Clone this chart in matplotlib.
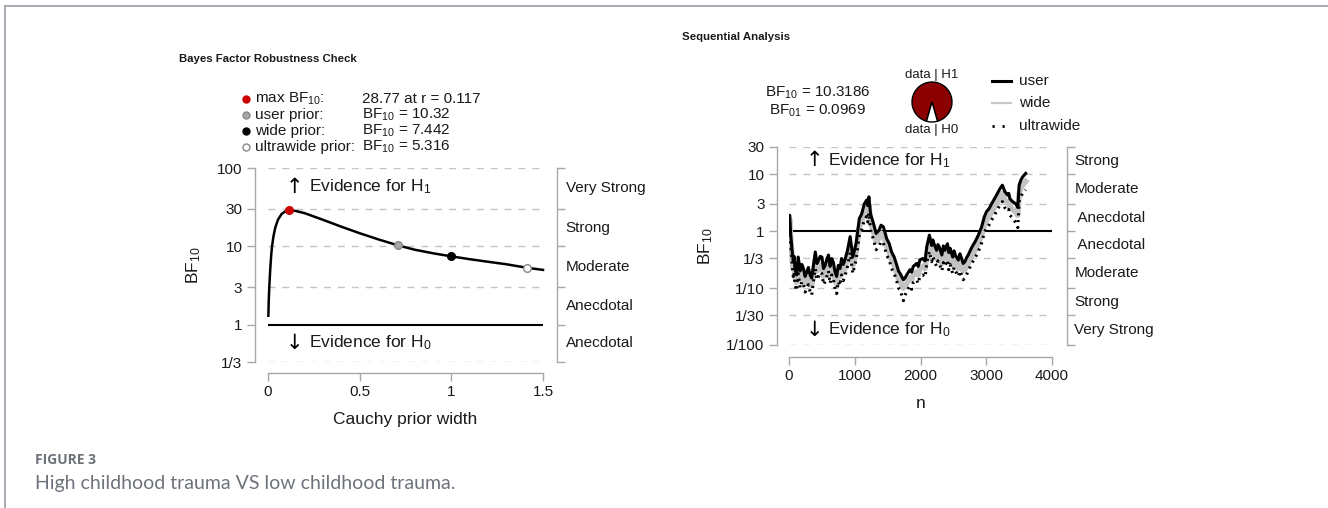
import numpy as np
import matplotlib
matplotlib.use("Agg")
import matplotlib.pyplot as plt
from matplotlib.ticker import NullLocator, FixedLocator
from matplotlib.transforms import blended_transform_factory
from matplotlib.lines import Line2D

plt.rcParams['font.family'] = ['Liberation Sans', 'DejaVu Sans']
plt.rcParams['mathtext.fontset'] = 'custom'
plt.rcParams['mathtext.rm'] = 'Liberation Sans'
plt.rcParams['mathtext.default'] = 'regular'

# ---- robustness check data
r_width = [0.002, 0.004, 0.007, 0.012, 0.018, 0.022, 0.03, 0.04, 0.055, 0.075, 0.095,
           0.117, 0.15, 0.2, 0.3, 0.4, 0.5, 0.6, 0.707, 0.8, 0.9, 1.0, 1.1, 1.2, 1.3, 1.414, 1.5]
bf_robust = [1.3, 2.0, 3.0, 5.0, 8.0, 10.0, 13.5, 17.5, 22.0, 26.0, 28.0,
             28.77, 28.3, 26.5, 21.8, 17.8, 14.7, 12.3, 10.32, 9.05, 8.15, 7.442, 6.85, 6.35, 5.9, 5.316, 5.0]
prior_r = [0.117, 0.707, 1.0, 1.414]
prior_bf = [28.77, 10.32, 7.442, 5.316]
prior_names = ["max BF$_{10}$:", "user prior:", "wide prior:", "ultrawide prior:"]
prior_vals = ["28.77 at r = 0.117", "BF$_{10}$ = 10.32", "BF$_{10}$ = 7.442", "BF$_{10}$ = 5.316"]
prior_face = ["#cc0000", "#a8a8a8", "black", "white"]
prior_edge = ["#cc0000", "#888888", "black", "#888888"]

# ---- sequential analysis data
n_obs = [0, 10, 25, 50, 65, 78, 90, 115, 140, 170, 195, 220, 245, 270, 295, 320, 345, 370,
         400, 425, 450, 475, 500, 525, 550, 575, 600, 625, 650, 675, 700, 725, 750, 775, 800,
         825, 850, 890, 930, 970, 1020, 1070, 1105, 1145, 1180, 1198, 1215, 1240, 1285, 1325,
         1370, 1400, 1435, 1460, 1485, 1525, 1560, 1600, 1640, 1665, 1690, 1740, 1765, 1790,
         1840, 1865, 1890, 1940, 1965, 1990, 2035, 2070, 2095, 2135, 2170, 2188, 2205, 2245,
         2265, 2285, 2325, 2348, 2370, 2410, 2430, 2450, 2490, 2510, 2530, 2575, 2600, 2625,
         2650, 2675, 2700, 2725, 2780, 2830, 2880, 2930, 2970, 3005, 3045, 3080, 3125, 3170,
         3210, 3245, 3285, 3325, 3342, 3360, 3400, 3450, 3480, 3500, 3525, 3555, 3600]
bf_user = [1.0, 1.9, 0.9, 0.42, 0.3, 0.36, 0.22, 0.17, 0.35, 0.2, 0.26, 0.22, 0.16, 0.19,
           0.23, 0.17, 0.15, 0.24, 0.43, 0.27, 0.31, 0.36, 0.35, 0.22, 0.25, 0.32, 0.38, 0.24,
           0.33, 0.28, 0.19, 0.16, 0.25, 0.22, 0.33, 0.26, 0.31, 0.46, 0.8, 0.35, 0.6, 1.67,
           2.0, 3.0, 3.5, 2.8, 4.0, 2.0, 1.36, 0.91, 1.04, 1.27, 1.19, 0.95, 0.74, 0.6, 0.43,
           0.35, 0.25, 0.2, 0.18, 0.14, 0.15, 0.17, 0.21, 0.19, 0.24, 0.27, 0.24, 0.31, 0.33,
           0.3, 0.53, 0.85, 0.56, 0.7, 0.6, 0.46, 0.58, 0.53, 0.38, 0.55, 0.46, 0.6, 0.42,
           0.5, 0.35, 0.45, 0.38, 0.31, 0.4, 0.33, 0.27, 0.29, 0.34, 0.38, 0.52, 0.65, 0.85,
           1.19, 1.78, 2.2, 2.5, 3.0, 3.7, 4.6, 5.6, 6.4, 4.9, 4.3, 4.6, 3.7, 3.3, 3.0, 2.6,
           6.4, 7.8, 9.0, 10.3186]
bf_wide = [1.0, 1.6, 0.75, 0.32, 0.22, 0.27, 0.16, 0.125, 0.26, 0.145, 0.19, 0.16, 0.12,
           0.14, 0.16, 0.12, 0.11, 0.17, 0.31, 0.2, 0.22, 0.26, 0.25, 0.16, 0.18, 0.23, 0.27,
           0.17, 0.24, 0.2, 0.14, 0.12, 0.18, 0.16, 0.24, 0.19, 0.22, 0.33, 0.57, 0.25, 0.43,
           1.2, 1.45, 2.15, 2.5, 2.0, 2.9, 1.45, 0.98, 0.66, 0.75, 0.92, 0.86, 0.68, 0.53,
           0.43, 0.31, 0.25, 0.18, 0.145, 0.13, 0.1, 0.11, 0.12, 0.15, 0.14, 0.17, 0.19, 0.17,
           0.22, 0.24, 0.22, 0.38, 0.61, 0.4, 0.5, 0.43, 0.33, 0.42, 0.38, 0.27, 0.4, 0.33,
           0.43, 0.3, 0.36, 0.25, 0.33, 0.27, 0.22, 0.29, 0.24, 0.2, 0.21, 0.24, 0.27, 0.37,
           0.47, 0.61, 0.86, 1.28, 1.6, 1.8, 2.15, 2.65, 3.3, 4.0, 4.6, 3.5, 3.1, 3.3, 2.65,
           2.4, 2.15, 1.9, 4.6, 5.6, 6.5, 7.44]
bf_ultra = [1.0, 1.4, 0.6, 0.24, 0.16, 0.19, 0.115, 0.09, 0.18, 0.1, 0.13, 0.115, 0.085,
            0.1, 0.115, 0.088, 0.075, 0.125, 0.22, 0.14, 0.16, 0.19, 0.18, 0.115, 0.13, 0.16,
            0.2, 0.12, 0.17, 0.14, 0.1, 0.08, 0.13, 0.11, 0.17, 0.135, 0.16, 0.24, 0.42, 0.18,
            0.31, 0.87, 1.05, 1.55, 1.8, 1.45, 2.1, 1.05, 0.71, 0.47, 0.54, 0.66, 0.62, 0.49,
            0.38, 0.31, 0.22, 0.18, 0.13, 0.1, 0.094, 0.06, 0.075, 0.088, 0.11, 0.095, 0.125,
            0.14, 0.12, 0.16, 0.17, 0.155, 0.27, 0.44, 0.29, 0.36, 0.31, 0.24, 0.3, 0.27, 0.2,
            0.28, 0.24, 0.31, 0.21, 0.26, 0.18, 0.23, 0.2, 0.16, 0.2, 0.17, 0.14, 0.15, 0.17,
            0.2, 0.27, 0.34, 0.44, 0.62, 0.93, 1.15, 1.3, 1.55, 1.9, 2.4, 2.9, 3.3, 2.55, 2.25,
            2.4, 1.9, 1.7, 1.4, 1.15, 3.3, 4.0, 4.7, 5.32]
bf10_final = 10.3186
bf01_final = 0.0969

left_ticks = [1/3, 1, 3, 10, 30, 100]
left_ticklabels = ["1/3", "1", "3", "10", "30", "100"]
left_bands = ["Anecdotal", "Anecdotal", "Moderate", "Strong", "Very Strong"]
right_ticks = [1/100, 1/30, 1/10, 1/3, 1, 3, 10, 30]
right_ticklabels = ["1/100", "1/30", "1/10", "1/3", "1", "3", "10", "30"]
right_bands = ["Very Strong", "Strong", "Moderate", " Anecdotal", " Anecdotal", "Moderate", "Strong"]

W, H = 1328, 508
AXC = "#a8a8a8"
TXT = "#1a1a1a"
DASH = "#c4c4c4"


def px_rect(x0, y0, x1, y1):
    return [x0 / W, 1 - y1 / H, (x1 - x0) / W, (y1 - y0) / H]


def style_axes(ax, ticks, labels, xl, out_l, out_b, out_r):
    ax.set_yscale("log")
    ax.set_ylim(ticks[0], ticks[-1])
    ax.yaxis.set_minor_locator(NullLocator())
    ax.yaxis.set_major_locator(FixedLocator(ticks))
    ax.set_yticklabels(labels)
    ax.spines["top"].set_visible(False)
    for s, o in (("left", out_l), ("bottom", out_b), ("right", out_r)):
        ax.spines[s].set_position(("outward", o))
        ax.spines[s].set_color(AXC)
        ax.spines[s].set_linewidth(1.0)
    ax.spines["left"].set_bounds(ticks[0], ticks[-1])
    ax.spines["right"].set_bounds(ticks[0], ticks[-1])
    ax.spines["bottom"].set_bounds(*xl)
    ax.set_xlim(*xl)
    ax.tick_params(axis="both", which="both", direction="out", length=6, width=1.0,
                   color=AXC, labelcolor=TXT, labelsize=11, pad=3)
    ax.tick_params(axis="y", right=True, labelright=False)
    ax.patch.set_visible(False)
    for t in ticks:
        if t == 1:
            ax.plot(xl, [1, 1], color="black", lw=1.5, zorder=2)
        else:
            ax.plot(xl, [t, t], color=DASH, lw=1.0, ls=(0, (5, 5)), zorder=1)
    tr = blended_transform_factory(ax.transAxes, ax.transData)
    return tr


def evidence(ax, x_arrow, x_text, y, sub):
    ax.text(x_arrow, y, "\u2191" if sub == "1" else "\u2193", fontsize=15, ha="center",
            va="center", family=["DejaVu Sans"], color="black")
    ax.text(x_text, y, "Evidence for H$_%s$" % sub, fontsize=12.5, ha="left",
            va="center", color=TXT)


fig = plt.figure(figsize=(W / 100, H / 100), dpi=100)

# page frame (top and left rules)
fig.add_artist(Line2D([5 / W, 1], [1 - 6 / H, 1 - 6 / H], color="#a3a3ab", lw=1.3))
fig.add_artist(Line2D([5 / W, 5 / W], [0, 1 - 6 / H], color="#a3a3ab", lw=1.3))

# ---------------- left panel
ax1 = fig.add_axes(px_rect(268, 168, 543, 362))
tr1 = style_axes(ax1, left_ticks, left_ticklabels, (0, 1.5), 9.4, 7.9, 10)
ax1.set_xticks([0, 0.5, 1, 1.5])
ax1.set_xticklabels(["0", "0.5", "1", "1.5"])
ax1.plot(r_width, bf_robust, color="black", lw=1.8, zorder=3, clip_on=False)
for rr, bb, fc, ec in zip(prior_r, prior_bf, prior_face, prior_edge):
    ax1.plot(rr, bb, "o", ms=5.5, mfc=fc, mec=ec, mew=1.0, zorder=4, clip_on=False)
for i, lab in enumerate(left_bands):
    ymid = np.sqrt(left_ticks[i] * left_ticks[i + 1])
    ax1.text(1.082, ymid, lab, transform=tr1, fontsize=11, color=TXT, va="center", ha="left")
evidence(ax1, 0.147, 0.225, 57, "1")
evidence(ax1, 0.147, 0.225, 0.59, "0")
ax1.set_xlabel("Cauchy prior width", fontsize=12.5, color=TXT, labelpad=9)
ax1.set_ylabel("BF$_{10}$", fontsize=12.5, color=TXT, labelpad=10)

# legend block above left panel
rows_y = [99, 115, 131, 147]
for yy, nm, vl, fc, ec in zip(rows_y, prior_names, prior_vals, prior_face, prior_edge):
    fy = 1 - yy / H
    fig.add_artist(Line2D([246 / W], [fy], marker="o", ms=5, mfc=fc, mec=ec, mew=1.0, ls=""))
    fig.text(255 / W, fy, nm, fontsize=11, va="center", ha="left", color=TXT)
    fig.text(362 / W, fy, vl, fontsize=11, va="center", ha="left", color=TXT)
fig.text(179 / W, 1 - 59 / H, "Bayes Factor Robustness Check", fontsize=8.2,
         fontweight="bold", va="center", ha="left", color=TXT)

# ---------------- right panel
ax2 = fig.add_axes(px_rect(789, 147, 1052, 345))
tr2 = style_axes(ax2, right_ticks, right_ticklabels, (0, 4000), 8.6, 8.6, 10.8)
ax2.set_xticks([0, 1000, 2000, 3000, 4000])
ax2.plot(n_obs, bf_wide, color="#c2c2c2", lw=4.0, zorder=3)
ax2.plot(n_obs, bf_user, color="black", lw=2.2, zorder=4)
ax2.plot(n_obs, bf_ultra, color="black", lw=2.2, ls=(0, (0.7, 1.5)), zorder=5)
for i, lab in enumerate(right_bands):
    ymid = np.sqrt(right_ticks[i] * right_ticks[i + 1])
    ax2.text(1.085, ymid, lab, transform=tr2, fontsize=11, color=TXT, va="center", ha="left")
evidence(ax2, 395, 590, 17.6, "1")
evidence(ax2, 395, 590, 0.0183, "0")
ax2.set_xlabel("n", fontsize=12.5, color=TXT, labelpad=9)
ax2.set_ylabel("BF$_{10}$", fontsize=12.5, color=TXT, labelpad=8)

fig.text(682 / W, 1 - 37 / H, "Sequential Analysis", fontsize=8.2, fontweight="bold",
         va="center", ha="left", color=TXT)
fig.text(818 / W, 1 - 93 / H, "BF$_{10}$ = %.4f" % bf10_final, fontsize=11,
         va="center", ha="center", color=TXT)
fig.text(818 / W, 1 - 111 / H, "BF$_{01}$ = %.4f" % bf01_final, fontsize=11,
         va="center", ha="center", color=TXT)

# pie of posterior model odds
p1 = bf10_final / (1 + bf10_final)
axp = fig.add_axes(px_rect(907, 77, 957, 127))
start = 270 - 360 * p1 - 180 * (1 - p1)
axp.pie([p1, 1 - p1], colors=["#8b0000", "white"], startangle=start,
        wedgeprops=dict(edgecolor="black", linewidth=1.0))
axp.set_aspect("equal")
fig.text(932 / W, 1 - 75 / H, "data | H1", fontsize=9.5, ha="center", va="center", color=TXT)
fig.text(932 / W, 1 - 130 / H, "data | H0", fontsize=9.5, ha="center", va="center", color=TXT)

# legend of the sequential panel
leg_y = [81, 103, 126]
leg_lab = ["user", "wide", "ultrawide"]
leg_sty = [dict(color="black", lw=2.2), dict(color="#c8c8c8", lw=1.6),
           dict(color="black", lw=2.0, ls=(0, (0.8, 2.8)))]
for yy, lab, sty in zip(leg_y, leg_lab, leg_sty):
    fy = 1 - yy / H
    fig.add_artist(Line2D([992 / W, 1011 / W], [fy, fy], **sty))
    fig.text(1019 / W, fy, lab, fontsize=11, va="center", ha="left", color=TXT)

# caption
fig.text(35 / W, 1 - 460 / H, "FIGURE 3", fontsize=10, fontweight="bold",
         family=["Open Sans", "DejaVu Sans"], color="#6e737b", va="center", ha="left")
fig.text(35 / W, 1 - 483 / H, "High childhood trauma VS low childhood trauma.", fontsize=14,
         family=["Lato", "DejaVu Sans"], color="#6e737b", va="center", ha="left")

fig.savefig("out.png", dpi=100)
